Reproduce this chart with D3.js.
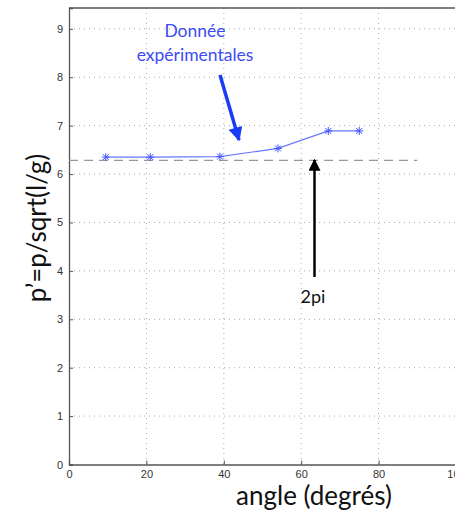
<!DOCTYPE html>
<html><head><meta charset="utf-8">
<script src="https://cdn.jsdelivr.net/npm/d3@7"></script>
<style>body{margin:0;background:#fff;overflow:hidden}svg{display:block}</style>
</head><body>
<svg id="c" width="455" height="513"></svg>
<script>
const angles = [9.5, 21, 39, 54, 67, 75];
const pPrime = [6.35, 6.35, 6.36, 6.53, 6.89, 6.89];
const xTicks = [0, 20, 40, 60, 80, 100];
const yTicks = [0,1,2,3,4,5,6,7,8,9];
const twoPi = [[0, 2*Math.PI],[90, 2*Math.PI]];

const svg = d3.select("#c");
const L=69, R=456, T=8, B=464.5;
const x = d3.scaleLinear().domain([0,100]).range([L,R]);
const y = d3.scaleLinear().domain([0,9.43]).range([B,T]);

// grid
const g = svg.append("g");
g.selectAll(".gx").data(xTicks.slice(1,-1)).join("line")
 .attr("x1",d=>x(d)).attr("x2",d=>x(d)).attr("y1",T).attr("y2",B)
 .attr("stroke","#aaa").attr("stroke-width",1).attr("stroke-dasharray","1,4");
g.selectAll(".gy").data(yTicks.slice(1)).join("line")
 .attr("y1",d=>y(d)).attr("y2",d=>y(d)).attr("x1",L).attr("x2",R)
 .attr("stroke","#aaa").attr("stroke-width",1).attr("stroke-dasharray","1,4");

// axes
const ax = svg.append("g").attr("transform",`translate(0,${B})`)
 .call(d3.axisBottom(x).tickValues(xTicks).tickSize(-4).tickPadding(6));
const ay = svg.append("g").attr("transform",`translate(${L},0)`)
 .call(d3.axisLeft(y).tickValues(yTicks).tickSize(-4).tickPadding(6));
[ax,ay].forEach(a=>{
  a.select(".domain").attr("stroke","#555").attr("stroke-width",1.3);
  a.selectAll(".tick line").attr("stroke","#555");
  a.selectAll("text").attr("font-family","Liberation Sans, Arial, sans-serif").attr("font-size",11).attr("fill","#333");
});
svg.append("line").attr("x1",L).attr("x2",R).attr("y1",T).attr("y2",T).attr("stroke","#555").attr("stroke-width",1.3);

// 2pi dashed line
svg.append("path").datum(twoPi)
 .attr("d",d3.line().x(d=>x(d[0])).y(d=>y(d[1])))
 .attr("stroke","#999").attr("stroke-width",1.3).attr("stroke-dasharray","9,6").attr("fill","none");

// data line
const pts = angles.map((a,i)=>[a,pPrime[i]]);
svg.append("path").datum(pts)
 .attr("d",d3.line().x(d=>x(d[0])).y(d=>y(d[1])))
 .attr("stroke","#6677ff").attr("stroke-width",1.2).attr("fill","none");
const star = svg.selectAll(".st").data(pts).join("g")
 .attr("transform",d=>`translate(${x(d[0])},${y(d[1])})`);
[[0,-4,0,4],[-4,0,4,0],[-3,-3,3,3],[-3,3,3,-3]].forEach(s=>{
  star.append("line").attr("x1",s[0]).attr("y1",s[1]).attr("x2",s[2]).attr("y2",s[3])
   .attr("stroke","#4455ff").attr("stroke-width",1);
});

// arrows
const defs = svg.append("defs");
function marker(id,color,w,h){
  defs.append("marker").attr("id",id).attr("viewBox","0 0 10 10").attr("refX",9).attr("refY",5)
   .attr("markerWidth",w).attr("markerHeight",h).attr("orient","auto").attr("markerUnits","userSpaceOnUse")
   .append("path").attr("d","M0,0 L10,5 L0,10 Z").attr("fill",color);
}
marker("ab","#1a3cf5",16,14);
marker("ak","#000",12,12);
svg.append("line").attr("x1",220).attr("y1",75).attr("x2",239).attr("y2",140)
 .attr("stroke","#1a3cf5").attr("stroke-width",3.5).attr("marker-end","url(#ab)");
svg.append("line").attr("x1",314.5).attr("y1",277).attr("x2",314.5).attr("y2",160)
 .attr("stroke","#000").attr("stroke-width",2.5).attr("marker-end","url(#ak)");

// annotation text
const ff = "Lato, 'Open Sans', sans-serif";
svg.append("text").attr("x",195).attr("y",37).attr("text-anchor","middle")
 .attr("font-family",ff).attr("font-size",17.5).attr("fill","#3b4cf5").text("Donnée");
svg.append("text").attr("x",195).attr("y",61).attr("text-anchor","middle")
 .attr("font-family",ff).attr("font-size",17.5).attr("fill","#3b4cf5").text("expérimentales");
svg.append("text").attr("x",313).attr("y",303).attr("text-anchor","middle")
 .attr("font-family",ff).attr("font-size",18).attr("fill","#111").text("2pi");

// axis labels
svg.append("text").attr("x",314).attr("y",505).attr("text-anchor","middle")
 .attr("font-family",ff).attr("font-size",26).attr("fill","#111").text("angle (degrés)");
svg.append("text").attr("transform","translate(46,228) rotate(-90)").attr("text-anchor","middle")
 .attr("font-family",ff).attr("font-size",26).attr("fill","#111").text("p’=p/sqrt(l/g)");
</script>
</body></html>
